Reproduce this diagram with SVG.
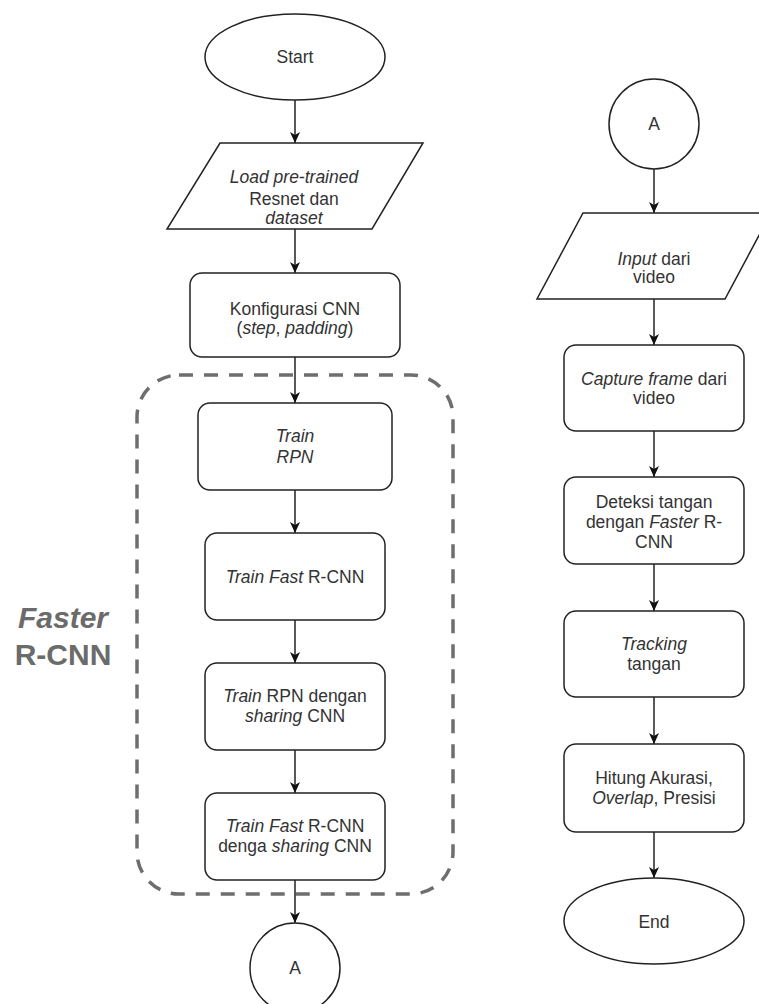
<svg xmlns="http://www.w3.org/2000/svg" width="759" height="1004" viewBox="0 0 759 1004">
<defs>
<marker id="arr" markerUnits="userSpaceOnUse" markerWidth="12" markerHeight="12" viewBox="0 0 12 12" refX="11" refY="6" orient="auto">
<path d="M0,1 L11,6 L0,11 L3,6 Z" fill="#111"/>
</marker>
<style>
.s{fill:#fff;stroke:#222;stroke-width:1.5}
.t{font-family:"Liberation Sans",Arial,sans-serif;font-size:17.5px;fill:#333;text-anchor:middle}
.i{font-style:italic}
.c{stroke:#222;stroke-width:1.5;fill:none;marker-end:url(#arr)}
.lbl{font-family:"Liberation Sans",Arial,sans-serif;font-size:30px;font-weight:bold;fill:#6b6b6b;text-anchor:middle}
</style>
</defs>
<rect width="759" height="1004" fill="#fff"/>

<g id="group-faster">
<rect x="137" y="375" width="316" height="519" rx="42" ry="42" fill="none" stroke="#6e6e6e" stroke-width="3.5" stroke-dasharray="14 11"/>
<text class="lbl" x="63" y="628" font-style="italic">Faster</text>
<text class="lbl" x="63" y="665">R-CNN</text>
</g>

<g id="connectors">
<line class="c" x1="295" y1="100" x2="295" y2="143"/>
<line class="c" x1="295" y1="229" x2="295" y2="273"/>
<line class="c" x1="295" y1="357" x2="295" y2="403"/>
<line class="c" x1="295" y1="490" x2="295" y2="533"/>
<line class="c" x1="295" y1="620" x2="295" y2="663"/>
<line class="c" x1="295" y1="750" x2="295" y2="793"/>
<line class="c" x1="295" y1="880" x2="295" y2="923"/>
<line class="c" x1="654" y1="169" x2="654" y2="213"/>
<line class="c" x1="654" y1="299" x2="654" y2="345"/>
<line class="c" x1="654" y1="431" x2="654" y2="477"/>
<line class="c" x1="654" y1="564" x2="654" y2="611"/>
<line class="c" x1="654" y1="697" x2="654" y2="744"/>
<line class="c" x1="654" y1="832" x2="654" y2="878"/>
</g>

<g id="start">
<ellipse class="s" cx="295" cy="57" rx="90" ry="43"/>
<text class="t" x="295" y="63">Start</text>
</g>

<g id="load">
<polygon class="s" points="220,143 423,143 372,229 167,229"/>
<text class="t" x="294" y="183"><tspan class="i">Load pre-trained</tspan></text>
<text class="t" x="294" y="205">Resnet dan</text>
<text class="t" x="294" y="224"><tspan class="i">dataset</tspan></text>
</g>

<g id="konfig">
<rect class="s" x="190" y="273" width="210" height="84" rx="12" ry="12"/>
<text class="t" x="295" y="315">Konfigurasi CNN</text>
<text class="t" x="295" y="334">(<tspan class="i">step</tspan>, <tspan class="i">padding</tspan>)</text>
</g>

<g id="train-rpn">
<rect class="s" x="198" y="403" width="194" height="87" rx="12" ry="12"/>
<text class="t" x="295" y="442"><tspan class="i">Train</tspan></text>
<text class="t" x="295" y="463"><tspan class="i">RPN</tspan></text>
</g>

<g id="train-fast">
<rect class="s" x="205" y="533" width="180" height="87" rx="12" ry="12"/>
<text class="t" x="295" y="583"><tspan class="i">Train Fast</tspan> R-CNN</text>
</g>

<g id="train-rpn-sharing">
<rect class="s" x="205" y="663" width="180" height="87" rx="12" ry="12"/>
<text class="t" x="295" y="702"><tspan class="i">Train</tspan> RPN dengan</text>
<text class="t" x="295" y="722"><tspan class="i">sharing</tspan> CNN</text>
</g>

<g id="train-fast-sharing">
<rect class="s" x="205" y="793" width="180" height="87" rx="12" ry="12"/>
<text class="t" x="295" y="832"><tspan class="i">Train Fast</tspan> R-CNN</text>
<text class="t" x="295" y="852">denga <tspan class="i">sharing</tspan> CNN</text>
</g>

<g id="a-left">
<circle class="s" cx="295" cy="968" r="45"/>
<text class="t" x="295" y="974">A</text>
</g>

<g id="a-right">
<circle class="s" cx="654" cy="124" r="45"/>
<text class="t" x="654" y="130">A</text>
</g>

<g id="input">
<polygon class="s" points="583,213 771,213 725,299 537,299"/>
<text class="t" x="654" y="265"><tspan class="i">Input</tspan> dari</text>
<text class="t" x="654" y="283">video</text>
</g>

<g id="capture">
<rect class="s" x="564" y="345" width="180" height="86" rx="12" ry="12"/>
<text class="t" x="654" y="385"><tspan class="i">Capture frame</tspan> dari</text>
<text class="t" x="654" y="404">video</text>
</g>

<g id="deteksi">
<rect class="s" x="564" y="477" width="180" height="87" rx="12" ry="12"/>
<text class="t" x="654" y="508">Deteksi tangan</text>
<text class="t" x="654" y="528">dengan <tspan class="i">Faster</tspan> R-</text>
<text class="t" x="654" y="548">CNN</text>
</g>

<g id="tracking">
<rect class="s" x="564" y="611" width="180" height="86" rx="12" ry="12"/>
<text class="t" x="654" y="650"><tspan class="i">Tracking</tspan></text>
<text class="t" x="654" y="670">tangan</text>
</g>

<g id="hitung">
<rect class="s" x="564" y="744" width="180" height="88" rx="12" ry="12"/>
<text class="t" x="654" y="784">Hitung Akurasi,</text>
<text class="t" x="654" y="804"><tspan class="i">Overlap</tspan>, Presisi</text>
</g>

<g id="end">
<ellipse class="s" cx="654" cy="921" rx="90" ry="43"/>
<text class="t" x="654" y="928">End</text>
</g>
</svg>
